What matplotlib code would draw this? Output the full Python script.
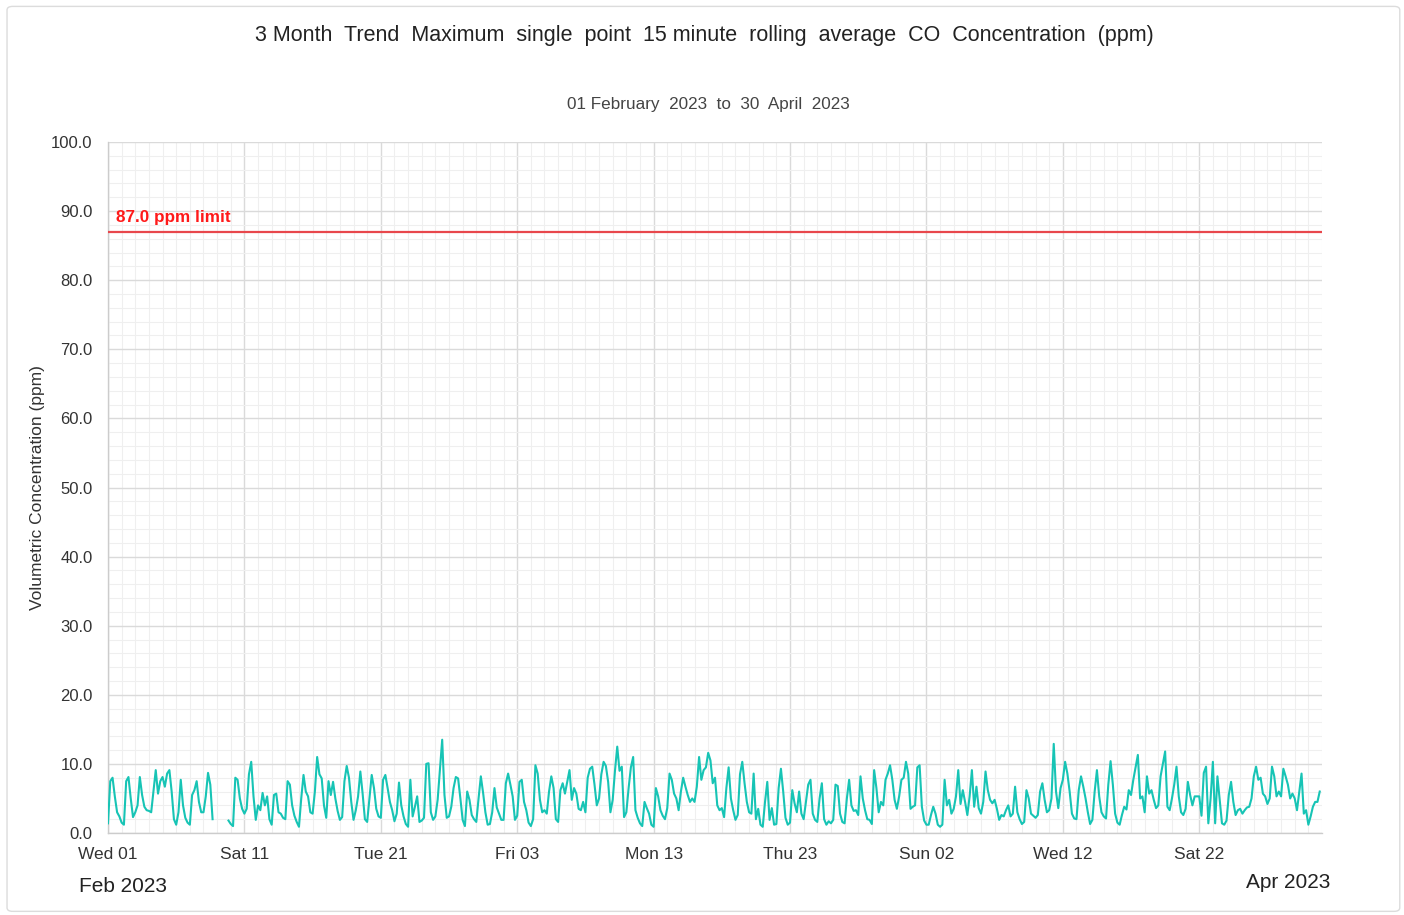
import numpy as np
import pandas as pd
import matplotlib
matplotlib.use("Agg")
import matplotlib.pyplot as plt
import matplotlib.dates as mdates
from matplotlib.patches import FancyBboxPatch

plt.rcParams['font.family'] = ['Liberation Sans', 'DejaVu Sans']

nan = np.nan
# 4-hourly samples (00,04,08,12,16,20h) of max 15-min rolling avg CO, ppm
feb_values = [
    1.4, 7.5, 8.0, 5.3, 3.0, 2.4,
    1.5, 1.2, 7.5, 8.1, 5.0, 2.3,
    3.0, 4.0, 8.1, 5.5, 3.8, 3.3,
    3.2, 3.0, 6.0, 9.1, 5.7, 7.5,
    8.1, 6.7, 8.6, 9.1, 6.0, 2.0,
    1.2, 3.0, 7.7, 4.0, 2.2, 1.5,
    1.2, 5.5, 6.2, 7.5, 4.5, 3.0,
    3.0, 5.3, 8.7, 7.0, 2.0, nan,
    nan, nan, nan, nan, nan, 1.8,
    1.3, 1.0, 8.0, 7.7, 5.0, 3.5,
    2.8, 3.5, 8.5, 10.3, 5.3, 1.9,
    4.0, 3.3, 5.8, 4.0, 5.3, 2.0,
    1.2, 5.5, 5.7, 3.0, 2.8, 2.2,
    2.0, 7.5, 7.0, 4.0, 2.5, 1.6,
    0.9, 5.0, 8.4, 6.0, 5.3, 3.0,
    2.8, 6.0, 11.0, 8.5, 7.9, 4.0,
    2.2, 7.5, 5.5, 7.4, 5.0, 3.2,
    1.9, 2.3, 7.5, 9.7, 8.0, 4.5,
    1.9, 3.3, 5.3, 8.9, 5.7, 2.0,
    1.6, 5.0, 8.4, 6.5, 3.5, 2.4,
    2.2, 7.7, 8.4, 6.5, 4.5, 3.3,
    1.7, 2.8, 7.3, 4.0, 2.4, 1.3,
    0.9, 7.7, 2.4, 3.8, 5.3, 1.6,
    1.8, 2.2, 10.0, 10.1, 3.0, 1.9,
    2.4, 4.8, 9.1, 13.5, 5.5, 2.2,
    2.4, 3.8, 6.5, 8.1, 7.9, 5.0,
    1.9, 1.0, 6.0, 4.8, 2.6, 2.0,
    1.6, 5.0, 8.2, 5.8, 3.0, 1.2,
]
mar_values = [
    1.3, 3.0, 6.5, 3.7, 2.8, 1.9,
    1.9, 7.2, 8.6, 7.0, 5.3, 1.9,
    2.5, 7.4, 7.7, 4.5, 3.3, 1.5,
    1.0, 2.0, 9.8, 8.6, 4.8, 3.0,
    3.3, 2.8, 6.0, 8.2, 6.5, 2.0,
    1.6, 6.2, 7.2, 5.7, 7.4, 9.1,
    4.8, 6.5, 5.7, 3.5, 3.3, 4.5,
    3.0, 8.0, 9.3, 9.6, 7.0, 4.0,
    5.0, 8.5, 10.3, 9.7, 7.4, 3.0,
    4.8, 9.0, 12.5, 9.0, 9.6, 2.3,
    3.0, 6.5, 9.5, 11.0, 3.3, 2.2,
    1.4, 1.0, 4.5, 3.6, 2.8, 1.2,
    0.9, 6.5, 5.3, 3.3, 2.5, 2.0,
    3.6, 8.6, 7.7, 5.7, 5.0, 3.3,
    6.0, 8.0, 6.7, 5.5, 4.5, 5.0,
    4.5, 6.7, 11.0, 7.7, 9.1, 9.5,
    11.6, 10.5, 7.2, 8.0, 4.0, 3.3,
    3.6, 2.3, 6.5, 9.5, 5.0, 3.3,
    1.9, 2.6, 8.5, 10.3, 7.2, 4.5,
    3.0, 2.8, 8.6, 2.0, 3.5, 1.2,
    0.9, 4.5, 7.4, 1.9, 3.6, 1.2,
    1.3, 6.5, 9.3, 6.0, 2.2, 1.2,
    1.5, 6.2, 4.3, 3.0, 6.0, 2.8,
    2.0, 4.5, 7.0, 7.7, 2.8, 1.9,
    1.6, 5.0, 7.2, 2.0, 1.2, 1.7,
    1.4, 1.9, 7.0, 6.8, 2.8, 1.6,
    1.4, 5.0, 7.7, 4.0, 3.2, 3.3,
    2.6, 8.2, 5.0, 3.3, 2.0, 1.9,
    1.3, 9.1, 6.5, 3.0, 4.5, 4.0,
    7.7, 8.6, 9.8, 7.7, 4.8, 3.5,
    5.3, 7.7, 8.0, 10.3, 8.6, 3.5,
]
apr_values = [
    3.8, 4.0, 9.5, 9.8, 3.8, 1.8,
    1.2, 1.2, 2.6, 3.8, 2.8, 1.2,
    0.9, 1.2, 7.7, 4.0, 4.8, 2.8,
    3.5, 5.3, 9.1, 4.2, 6.2, 4.5,
    2.6, 5.3, 9.1, 3.8, 6.7, 3.6,
    2.8, 4.5, 8.9, 6.2, 4.8, 4.3,
    4.8, 3.5, 1.9, 2.6, 2.4, 3.3,
    4.0, 2.4, 2.8, 6.7, 3.0, 2.0,
    1.3, 1.6, 6.2, 5.0, 2.8, 2.5,
    2.2, 2.6, 6.0, 7.2, 4.8, 3.0,
    3.3, 5.0, 12.9, 6.0, 3.6, 6.5,
    7.7, 10.3, 8.6, 6.0, 2.8, 2.1,
    2.0, 6.2, 8.2, 6.7, 5.0, 3.0,
    1.3, 1.9, 6.0, 9.1, 5.3, 3.0,
    2.4, 2.1, 7.0, 10.4, 7.0, 2.8,
    1.5, 1.2, 2.6, 3.8, 3.4, 6.2,
    5.5, 7.7, 9.5, 11.3, 5.0, 5.3,
    3.0, 8.2, 5.7, 6.2, 4.8, 3.6,
    4.0, 8.2, 10.0, 11.8, 3.8, 3.3,
    5.0, 7.0, 9.6, 5.3, 3.0, 2.6,
    3.5, 7.4, 5.5, 4.0, 5.3, 5.3,
    5.3, 2.5, 8.7, 9.6, 1.4, 5.0,
    10.3, 1.4, 8.2, 4.8, 1.4, 1.2,
    1.8, 5.5, 7.4, 4.5, 2.6, 3.3,
    3.5, 2.8, 3.3, 3.7, 3.8, 5.0,
    8.2, 9.6, 7.7, 8.0, 5.7, 5.3,
    4.2, 5.0, 9.6, 8.2, 5.3, 6.0,
    5.3, 9.3, 8.2, 7.0, 5.0, 5.7,
    5.0, 3.3, 6.0, 8.6, 2.8, 3.3,
    1.2, 2.4, 3.8, 4.5, 4.5, 6.0,
]

limit_value = 87.0
limit_label = "87.0 ppm limit"
title = "3 Month  Trend  Maximum  single  point  15 minute  rolling  average  CO  Concentration  (ppm)"
subtitle = "01 February  2023  to  30  April  2023"
y_label = "Volumetric Concentration (ppm)"
start_date = "2023-02-01"
end_date = "2023-05-01"

values = feb_values + mar_values + apr_values
times = pd.date_range(start_date, periods=len(values), freq="4h")

fig = plt.figure(figsize=(14.04, 9.15), dpi=100)
fig.patch.set_facecolor("white")
border = FancyBboxPatch((0.005, 0.004), 0.992, 0.989, boxstyle="round,pad=0,rounding_size=0.004",
                        transform=fig.transFigure, facecolor="none", edgecolor="#dcdcdc",
                        linewidth=1.0, zorder=-10)
fig.patches.append(border)

ax = fig.add_axes([108/1404, 82/915, 1214/1404, 691/915])
ax.set_facecolor("white")

ax.plot(times, values, color="#17c4b5", linewidth=1.5, zorder=3)
ax.axhline(limit_value, color="#e8474c", linewidth=1.6, zorder=4)
ax.annotate(limit_label, xy=(0.007, limit_value), xycoords=("axes fraction", "data"),
            xytext=(0, 5), textcoords="offset points", color="#ff1a1a",
            fontsize=12.3, fontweight="bold", ha="left", va="bottom")

ax.set_xlim(pd.Timestamp(start_date), pd.Timestamp(end_date))
ax.set_ylim(0, 100)

major_dates = pd.date_range(start_date, "2023-04-30", freq="10D")
ax.set_xticks(major_dates)
ax.set_xticklabels([d.strftime("%a %d") for d in major_dates])
ax.xaxis.set_minor_locator(mdates.DayLocator())
ax.set_yticks(np.arange(0, 101, 10))
ax.set_yticklabels([f"{v:.1f}" for v in np.arange(0, 101, 10)])
ax.set_yticks(np.arange(0, 101, 2), minor=True)

ax.grid(True, which="major", color="#dadada", linewidth=1.0, zorder=0)
ax.grid(True, which="minor", color="#efefef", linewidth=0.8, zorder=0)
ax.set_axisbelow(True)

for s in ["top", "right"]:
    ax.spines[s].set_visible(False)
for s in ["left", "bottom"]:
    ax.spines[s].set_color("#cccccc")
    ax.spines[s].set_linewidth(1.0)

ax.tick_params(which="both", length=0)
ax.tick_params(axis="y", labelsize=12, labelcolor="#333333", pad=11)
ax.tick_params(axis="x", labelsize=12.5, labelcolor="#333333", pad=10)

ax.set_ylabel(y_label, fontsize=12.5, color="#333333")
ax.yaxis.set_label_coords((45 - 108) / 1214, (833 - 488) / 691)

fig.text(704/1404, 1 - 36/915, title, ha="center", va="center", fontsize=15.5, color="#222222")
fig.text(708/1404, 1 - 104/915, subtitle, ha="center", va="center", fontsize=12.3, color="#444444")
fig.text(79/1404, 1 - 886/915, "Feb 2023", ha="left", va="center", fontsize=15, color="#222222")
fig.text(1330/1404, 1 - 882/915, "Apr 2023", ha="right", va="center", fontsize=15, color="#222222")

fig.savefig("out.png", dpi=100, facecolor="white")
